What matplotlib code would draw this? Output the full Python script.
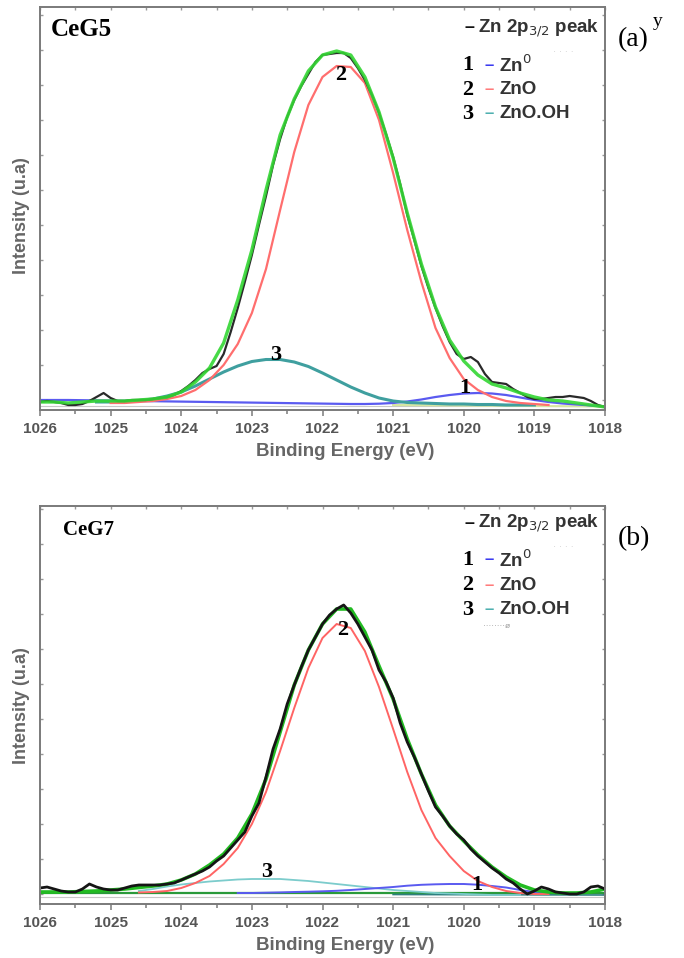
import numpy as np
import matplotlib
matplotlib.use('Agg')
import matplotlib.pyplot as plt
from matplotlib.ticker import MultipleLocator

plt.rcParams['font.family'] = ['Liberation Sans', 'DejaVu Sans']

# ---- data (intensity in arbitrary units) ----
# sampling grids (binding energy, eV, high -> low)
def grid(start, stop, step):
    n = int(round((start - stop) / step)) + 1
    return np.round(start - step * np.arange(n), 1)

be_fine = grid(1026.0, 1018.0, 0.1)
be_coarse = grid(1026.0, 1018.0, 0.2)

# CeG5 (panel a)
a_black = [8, 9, 8, 7, 5, 5, 6, 9, 13, 17, 12, 9, 9, 10, 10, 10, 11, 12, 13, 15,
           19, 24, 30, 37, 41, 44, 56, 78, 102, 128, 155, 185, 214, 245, 271, 293, 310, 324, 336, 348,
           355, 356, 357, 357, 352, 342, 330, 315, 297, 276, 253, 226, 195, 170, 144, 122, 102, 84, 68, 56,
           51, 53, 48, 36, 28, 27, 26, 21, 17, 13, 11, 11, 12, 13, 13, 14, 13, 12, 9, 5, 3]
a_green = [8, 8, 7, 8, 9, 9, 9, 10, 11, 13, 18, 28, 42, 67, 110, 160, 220, 275, 311, 339,
           355, 359, 355, 333, 298, 252, 197, 146, 103, 70, 49, 35, 26, 22, 17, 13, 10, 9, 7, 5, 3]
a_red_be = grid(1025.0, 1018.8, 0.2)
a_red = [7, 7, 8, 9, 11, 14, 20, 30, 45, 66, 97, 141, 200, 258, 305, 333, 344, 343, 327, 290,
         237, 180, 128, 82, 52, 31, 20, 13, 9, 7, 6, 5]
a_cyan_be = grid(1025.2, 1019.0, 0.2)
a_cyan = [8, 8, 8.5, 9.5, 11, 14, 18, 24, 31, 38, 44, 48.5, 50.5, 50.5, 48, 43.5, 37, 30, 23, 17,
          12, 9, 7.5, 7, 6.5, 6, 6, 5.5, 5.5, 5, 5, 5]
a_blue = [10, 10, 10, 9.8, 9.6, 9.4, 9.2, 9, 8.8, 8.6, 8.4, 8.2, 8, 7.8, 7.6, 7.4, 7.2, 7, 6.8, 6.6,
          6.4, 6.2, 6, 6, 6.3, 7, 8.5, 10.5, 13, 15, 16.5, 17, 16.5, 15, 12.5, 10, 8, 6.5, 5.5, 4.5, 3.5]
a_base_be = [1021.0, 1018.0]
a_base = [5.0, 3.5]

# CeG7 (panel b)
b_black = [16, 17, 15, 13, 12, 12, 15, 20, 17, 15, 14, 14, 16, 18, 19, 19, 19, 19, 20, 21,
           24, 27, 30, 33, 37, 43, 48, 56, 64, 72, 88, 101, 127, 155, 175, 200, 219, 237, 254, 267,
           280, 289, 295, 299, 291, 280, 267, 254, 234, 222, 206, 181, 162, 147, 130, 113, 97, 88, 78, 70,
           64, 55, 48, 42, 36, 31, 25, 21, 15, 10, 13, 17, 15, 12, 11, 10, 10, 12, 17, 18, 15]
b_green = [12, 12, 12, 12.5, 13, 14, 15, 16.5, 18, 20, 24, 30, 39, 50, 66, 90, 125, 172, 219, 254,
           280, 295, 295, 272, 238, 205, 165, 130, 99, 78, 63, 49, 37, 27, 19, 14, 12, 11, 11, 12, 15]
b_red_be = grid(1024.6, 1018.8, 0.2)
b_red = [11.5, 12, 13, 16, 21, 28, 40, 56, 80, 112, 153, 196, 236, 266, 280, 276, 253, 217, 175, 132,
         94, 66, 48, 33, 23, 17, 13, 11, 10, 10]
b_cyan_be = grid(1024.6, 1019.2, 0.2)
b_cyan = [13, 15, 17.5, 19.5, 21, 22.5, 23.5, 24.5, 25, 25, 25, 24, 23, 21.5, 20, 18.5, 17, 15.5, 14, 13,
          12, 11, 10.5, 10, 9.5, 9, 9, 9]
b_blue_be = grid(1023.2, 1018.8, 0.2)
b_blue = [11, 11, 11.3, 11.6, 12, 12.3, 12.7, 13.2, 14, 15, 16, 17, 18.3, 19.2, 19.7, 20, 20, 19.3, 18, 16.5,
          14, 12, 11]
b_base_be = [1026.0, 1018.0]
b_base = [11, 11]
b_base2_be = [1021.0, 1018.0]
b_base2 = [9.5, 9.0]

xticks = [1026, 1025, 1024, 1023, 1022, 1021, 1020, 1019, 1018]
legend_items = [('1', 'Zn$^{0}$', '#3b3bf0'), ('2', 'ZnO', '#ff7b7b'), ('3', 'ZnO.OH', '#4fb0b0')]

W, H = 684, 958
fig = plt.figure(figsize=(W / 100, H / 100), dpi=100)


def fx(x):
    return x / W


def fy(y):
    return 1 - y / H


def style(ax, ymax):
    ax.set_xlim(1026, 1018)
    ax.set_ylim(0, ymax)
    ax.set_xticks(xticks)
    ax.set_xticklabels([str(t) for t in xticks], fontweight='bold')
    ax.xaxis.set_minor_locator(MultipleLocator(0.5))
    ax.tick_params(axis='x', which='major', direction='out', length=4.5, width=1.1,
                   color='#7a7a7a', labelsize=11, labelcolor='#555555', pad=4)
    ax.tick_params(axis='x', which='minor', direction='out', length=3, width=1.1, color='#7a7a7a')
    ax.set_yticks(np.arange(10, ymax, 35))
    ax.tick_params(axis='y', direction='in', length=2.5, width=1, color='#999999',
                   left=True, right=True, labelleft=False)
    top = ax.secondary_xaxis('top')
    top.xaxis.set_major_locator(MultipleLocator(0.5))
    top.tick_params(direction='in', length=2.5, width=1, color='#999999', labeltop=False)
    top.spines['top'].set_visible(False)
    for s in ax.spines.values():
        s.set_color('#7a7a7a')
        s.set_linewidth(1.4)


def peak_label(ax, x, y, s):
    ax.text(x, y, s, fontsize=16, fontweight='bold', family='Liberation Serif',
            ha='center', va='center')


# ---- panel a ----
ax1 = fig.add_axes([fx(40), fy(410), fx(565), 403 / H])
style(ax1, 403)
ax1.axhline(4, color='#c8c8c8', lw=0.8)
ax1.plot(a_base_be, a_base, color='#d6e6a0', lw=1.5)
ax1.plot(be_coarse, a_blue, color='#5a5af0', lw=1.6)
ax1.plot(a_cyan_be, a_cyan, color='#3f9f9f', lw=2.2)
ax1.plot(a_red_be, a_red, color='#ff6e6e', lw=1.6)
ax1.plot(be_fine, a_black, color='#2a2a2a', lw=1.6)
ax1.plot(be_coarse, a_green, color='#33d633', lw=2.4, alpha=0.9)
peak_label(ax1, 1021.74, 335, '2')
peak_label(ax1, 1022.66, 55, '3')
peak_label(ax1, 1019.98, 22, '1')

# ---- panel b ----
ax2 = fig.add_axes([fx(40), fy(904), fx(565), 398 / H])
style(ax2, 398)
ax2.axhline(7, color='#c8c8c8', lw=0.8)
ax2.plot(b_base_be, b_base, color='#2a9a3a', lw=1.6)
ax2.plot(b_base2_be, b_base2, color='#2f7f7f', lw=1.2)
ax2.plot(b_cyan_be, b_cyan, color='#7ccccc', lw=1.3)
ax2.plot(b_blue_be, b_blue, color='#5a5af0', lw=1.4)
ax2.plot(b_red_be, b_red, color='#ff6464', lw=1.4)
ax2.plot(be_coarse, b_green, color='#22bb22', lw=2.6)
ax2.plot(be_fine, b_black, color='#151515', lw=2.0)
peak_label(ax2, 1021.72, 274, '2')
peak_label(ax2, 1022.79, 32, '3')
peak_label(ax2, 1019.82, 19, '1')

# ---- labels, legends ----
panels = [
    # sample, size, x, y, panel tag, tag y, peak-line y, legend y, xlabel y, ylabel y
    ('CeG5', 18, 51, 30, '(a)', 40, 28, [65, 90, 114], 451, 216),
    ('CeG7', 15, 63, 530, '(b)', 539, 523, [560, 585, 610], 945, 706),
]
for sample, size, sx, sy, tag, ty, py, ly, xly, yly in panels:
    fig.text(fx(sx), fy(sy), sample, fontsize=size, fontweight='bold',
             family='Liberation Serif', ha='left', va='center')
    fig.text(fx(618), fy(ty), tag, fontsize=20, family='Liberation Serif',
             ha='left', va='center')
    fig.text(fx(469), fy(py), '–', fontsize=13, fontweight='bold', color='#111111',
             ha='center', va='center')
    fig.text(fx(599), fy(py), 'Zn 2p$_{3/2}$ peak', fontsize=13.5, fontweight='bold',
             color='#333333', ha='right', va='center')
    for (num, name, col), yy in zip(legend_items, ly):
        fig.text(fx(468), fy(yy), num, fontsize=16, fontweight='bold',
                 family='Liberation Serif', ha='center', va='center')
        fig.text(fx(489), fy(yy), '–', fontsize=12, fontweight='bold', color=col,
                 ha='center', va='center')
        fig.text(fx(499), fy(yy), name, fontsize=13.5, fontweight='bold', color='#333333',
                 ha='left', va='center')
    fig.text(fx(563), fy(py + 24), '· · · ·', fontsize=7, color='#cccccc', ha='center', va='center')
    fig.text(fx(345), fy(xly), 'Binding Energy (eV)', fontsize=13.5, fontweight='bold',
             color='#666666', ha='center', va='center')
    fig.text(fx(22), fy(yly), 'Intensity (u.a)', rotation=90, fontsize=13, fontweight='bold',
             color='#666666', ha='center', va='center')

fig.text(fx(653), fy(22), 'y', fontsize=14, family='Liberation Serif', ha='left', va='center')
fig.text(fx(497), fy(626), '········ø', fontsize=6, color='#9a9a9a', ha='center', va='center')

fig.savefig('out.png', dpi=100)
